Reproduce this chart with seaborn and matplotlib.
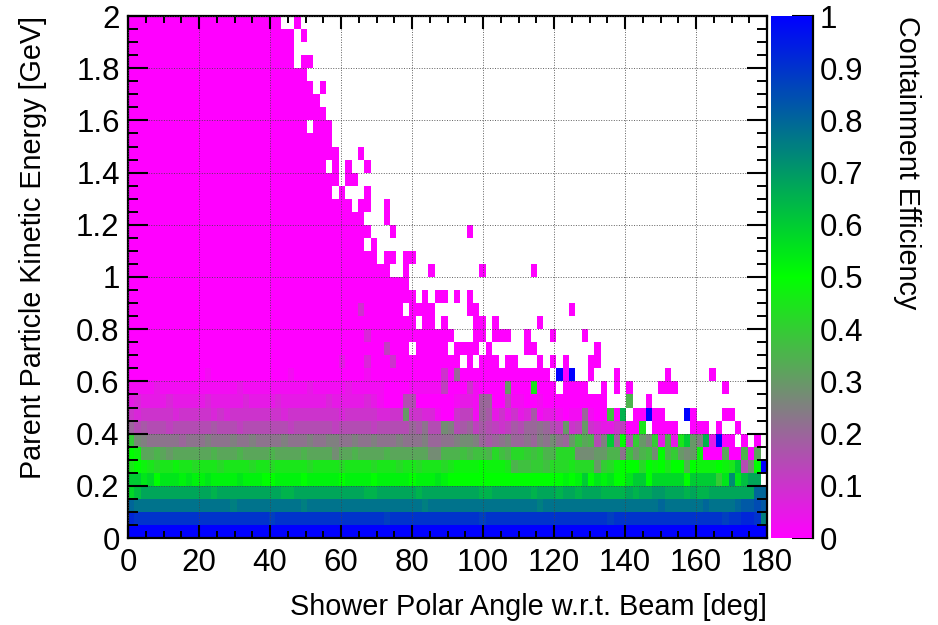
import numpy as np
import pandas as pd
import matplotlib
matplotlib.use("Agg")
import matplotlib.pyplot as plt
from matplotlib.colors import LinearSegmentedColormap
from matplotlib.ticker import FixedLocator
import seaborn as sns

sns.set_theme(style="ticks")
plt.rcParams["font.family"] = ["Liberation Sans", "DejaVu Sans"]

x_title = "Shower Polar Angle w.r.t. Beam [deg]"
y_title = "Parent Particle Kinetic Energy [GeV]"
z_title = "Containment Efficiency"
x_max = 180.0
y_max = 2.0
x_major = [0, 20, 40, 60, 80, 100, 120, 140, 160, 180]
x_minor = [5, 10, 15, 25, 30, 35, 45, 50, 55, 65, 70, 75, 85, 90, 95, 105, 110, 115,
           125, 130, 135, 145, 150, 155, 165, 170, 175]
y_major = [0, 0.2, 0.4, 0.6, 0.8, 1.0, 1.2, 1.4, 1.6, 1.8, 2.0]
y_labels = ["0", "0.2", "0.4", "0.6", "0.8", "1", "1.2", "1.4", "1.6", "1.8", "2"]
y_minor = [0.05, 0.10, 0.15, 0.25, 0.30, 0.35, 0.45, 0.50, 0.55, 0.65, 0.70, 0.75,
           0.85, 0.90, 0.95, 1.05, 1.10, 1.15, 1.25, 1.30, 1.35, 1.45, 1.50, 1.55,
           1.65, 1.70, 1.75, 1.85, 1.90, 1.95]
z_ticks = [0, 0.1, 0.2, 0.3, 0.4, 0.5, 0.6, 0.7, 0.8, 0.9, 1]
z_labels = ["0", "0.1", "0.2", "0.3", "0.4", "0.5", "0.6", "0.7", "0.8", "0.9", "1"]

# One character per 1.8 deg cell: '.' = empty, a..z A..O = 0, 0.025, 0.05 ... 1.0
level_chars = "abcdefghijklmnopqrstuvwxyzABCDEFGHIJKLMNO"
level_step = 0.025

row_00 = "O" * 100
row_01 = "LKKKKKKKKK KKKKKKKKKK KKJKKKKKKK KKKKKKKKKK JKKKKKKKKK KKKKKJKKKK KKKKKKKKKK KKKKKJKKKK KKKKKKKKKK KKKJKKLLKE"
row_02 = "GFFFFFFFFF FFFFFFEFFF FFFFFFFEFF FFFFFFFFFF FFFFFFEFFF FFFFFFFFFF FFFFEFFFFF FFFFFFFFFF FFFGFFFFFF GFFFFGHHIH"
row_03 = "xzBBBBBBBB BBBABBBBBB BBBBAABBBB BBBBBBBAAB BBBBBABBBB BBBBBAABBB BBBABBBABB ABBBAAAABA BBCCBBBABA ABBBBBBBGG"
row_04 = "yywxuwwwvw vvwvvvvwvv vuuvvvvuvv vvvuvvvvuv vvvvuvvvwv uuuuuuuuuu uuuuuuuuvu vyuwvwuuwy yuxxxxxuyy yyqwDwzBB."
row_05 = "sutsrsstss rsssrssssr ssrsssssrs sssrssssrs ssrssrsssr sttttuttts oppqqprrrs rrrmqrtuuu rutusuuout ttutsygluO"
row_06 = "utnnonmnnn nnnonnnonn nnonnnnonn nnlnnonnnn onnnnnnllo oopopporpo rrqpqoorrr lllmmoojpm opluoqmlmt aaanaaoan."
row_07 = "qlkjjjjjij jjkjjjkjjk jjjjkjjjkj jkkjjkjjkj jjkjjjkiij jkllkihijk iijikjljim pnogkyiugq mkqcocsymk AcOaa.a.a."
row_08 = "ighgggfggg ggghgggfgg gggggfgggg ggfgggggfg ggggihjggl kghifhgfef hgiijigfme fmedccefaa s.aaaa..aa a.a..a...."
row_09 = "edeeeeedee eeededeeee eeeedeeeee eeedeeeeed deemeeddba aeffbihcec ecdhbccbab bibaapaA.a aOaa...Oa. ...aa....."
row_10 = "cdccccdccc ccdcccccdc cccdcccccc cdcccccdcb aaaggaaaaa abccbiiaaf bbaabaaaaa aaaaa...o. .a........ .........."
row_11 = "bbbbcbbbbb bbbbbbbcbb bbbbbbbbcb bbbbcbbbbb aaaabbbbbf aaaebaaaam aaasaaa.aa aa..a.a.a. ...aaa.... ...a......"
row_12 = "aaaaaaaaaa aabaaaaaaa aaaaabaaaa aaaaaaabaa aaaaaaaaae aiaaaaaaaa aaaaaa.OaO ..a...a... ....a..... .a........"
row_13 = "a"*33+"c"+"a"*3+"d"+"a"*3+"e"+"a"*10+"."+"a"+"."+"a"*3+"."+"a"*2+"."*3+"a"+"."+"a"+"."+"a"+"."*3+"a"*2
row_14 = "a"*40+"f"+"a"*3+"."+"a"*5+"."+"a"*4+"."+"a"+"."*5+"a"*2+"."*9+"a"
row_15 = "a"*37+"d"+"a"*13+"."*3+"a"*2+"."+"a"*3+"."*2+"a"+"."*3+"a"+"."*4+"a"
row_16 = "a"*45+"."+"a"*2+"."+"a"+"."*4+"a"*2+"."+"a"+"."*6+"a"
row_17 = "a"*36+"e"+"a"*6+"."+"a"*4+"."*5+"a"*2+"."*14+"a"
row_18 = "a"*45+"."+"a"+"."+"a"*2+"."+"a"+"."+"a"
row_19 = "a"*44
row_20 = "a"*41+"."*2+"a"+"."*3+"a"+"."*7+"a"+"."*7+"a"
row_21 = "a"*39+"."+"a"*2+"."+"a"*2
row_22 = "a"*37+"."+"a"
row_23 = "a"*38+"."*3+"a"+"."*11+"a"
row_24 = "a"*37+"."*3+"a"
row_25 = "a"*35+"."+"a"*2+"."*2+"a"
row_26 = "a"*32+"."+"a"+"."*3+"a"
row_27 = "a"*33+"."+"a"*2
row_28 = "a"*31+"."+"a"+"."+"a"+"."*2+"a"
row_29 = "a"*33+"."*3+"a"
row_30 = "a"*32
row_31 = "a"*28+"."+"a"*3
row_32 = "a"*31
row_33 = "a"*30
row_34 = "a"*29+"."+"a"
row_35 = "a"*28
row_36 = "a"*26+"."+"a"*2
row_37 = "a"*26
row_38 = "a"*26+"."+"a"
row_39 = "a"*24+"."*2+"a"

rows = [row_00, row_01, row_02, row_03, row_04, row_05, row_06, row_07, row_08, row_09,
        row_10, row_11, row_12, row_13, row_14, row_15, row_16, row_17, row_18, row_19,
        row_20, row_21, row_22, row_23, row_24, row_25, row_26, row_27, row_28, row_29,
        row_30, row_31, row_32, row_33, row_34, row_35, row_36, row_37, row_38, row_39]


def decode(text):
    text = text.replace(" ", "").ljust(100, ".")
    assert len(text) == 100, text
    return [np.nan if ch == "." else level_chars.index(ch) * level_step for ch in text]


n_x = 100
n_y = len(rows)
efficiency = pd.DataFrame([decode(r) for r in rows])

W, H = 938, 625
fig = plt.figure(figsize=(W / 100, H / 100), dpi=100, facecolor="white")
L, R, T, B = 128, 767, 16, 538
ax = fig.add_axes([L / W, 1 - B / H, (R - L) / W, (B - T) / H])
cax = fig.add_axes([771 / W, 1 - B / H, (813 - 771) / W, (B - T) / H])

cmap = LinearSegmentedColormap.from_list(
    "root_pal",
    [(0.0, "#ff00ff"), (0.25, "#808080"), (0.5, "#00ff00"), (1.0, "#0000ff")],
    N=512,
)
sns.heatmap(efficiency, ax=ax, cbar_ax=cax, vmin=0, vmax=1, cmap=cmap,
            xticklabels=False, yticklabels=False, linewidths=0)
ax.set_xlim(0, n_x)
ax.set_ylim(0, n_y)
ax.set_xlabel("")
ax.set_ylabel("")

sx = n_x / x_max
sy = n_y / y_max
ax.set_xticks([v * sx for v in x_major])
ax.set_xticklabels([str(v) for v in x_major])
ax.set_yticks([v * sy for v in y_major])
ax.set_yticklabels(y_labels)
ax.xaxis.set_minor_locator(FixedLocator([v * sx for v in x_minor]))
ax.yaxis.set_minor_locator(FixedLocator([v * sy for v in y_minor]))

px = 72 / 100
ax.tick_params(axis="x", which="major", direction="in", top=True, bottom=True,
               length=13 * px, width=1.5, labelsize=22.5, pad=7, color="black", labelcolor="black")
ax.tick_params(axis="x", which="minor", direction="in", top=True, bottom=True,
               length=7 * px, width=1.4, color="black")
ax.tick_params(axis="y", which="major", direction="in", left=True, right=True,
               length=20 * px, width=1.5, labelsize=22.5, pad=6, color="black", labelcolor="black")
ax.tick_params(axis="y", which="minor", direction="in", left=True, right=True,
               length=10 * px, width=1.4, color="black")

ax.set_axisbelow(False)
ax.grid(True, which="major", color="#444444", linewidth=0.7, linestyle=(0, (1, 1.6)), alpha=0.85)
for s in ax.spines.values():
    s.set_visible(True)
    s.set_color("black")
    s.set_linewidth(1.6)

cbar = ax.collections[0].colorbar
cbar.outline.set_visible(False)
cbar.set_ticks(z_ticks)
cbar.set_ticklabels(z_labels)
cax.tick_params(axis="y", which="both", direction="in", right=True, left=False,
                length=21 * px, width=1.5, labelsize=22.5, pad=5, color="black", labelcolor="black")
cax.minorticks_off()
cax.spines["right"].set_visible(True)
cax.spines["right"].set_color("black")
cax.spines["right"].set_linewidth(1.6)

fig.text(767 / W, 1 - 607 / H, x_title, ha="right", va="center", fontsize=20.8, color="black")
fig.text(33 / W, 1 - 16 / H, y_title, ha="center", va="top", rotation=90, fontsize=20.7, color="black")
fig.text(907 / W, 1 - 16 / H, z_title, ha="center", va="top", rotation=270, fontsize=20.7, color="black")

fig.savefig("out.png", dpi=100, facecolor="white")
